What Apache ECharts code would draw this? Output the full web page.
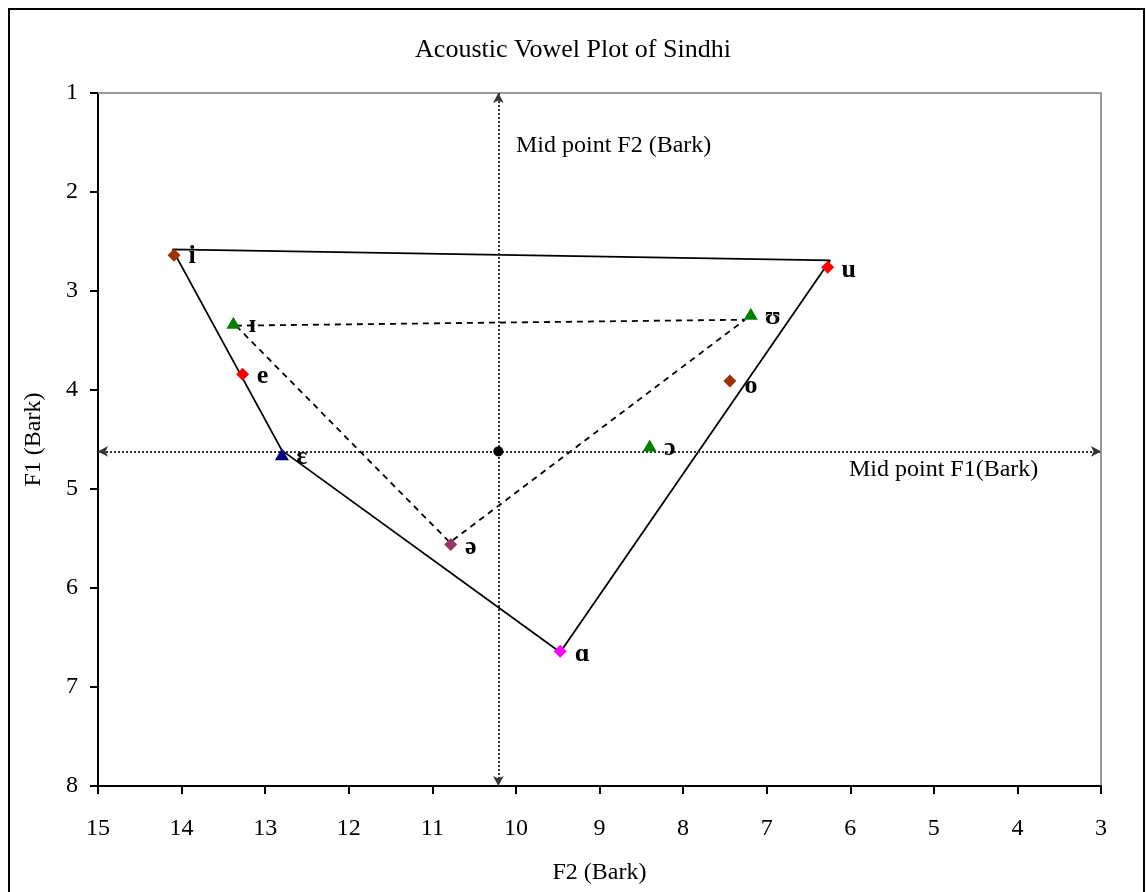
<!DOCTYPE html>
<html>
<head>
<meta charset="utf-8">
<script src="https://cdn.jsdelivr.net/npm/echarts@6/dist/echarts.min.js"></script>
<style>
  html, body { margin: 0; padding: 0; background: #fff; }
  #chart { width: 1146px; height: 892px; }
</style>
</head>
<body>
<div id="chart"></div>
<script>
// Vowel measurements (Bark)
const vowels = ['i', 'u', 'ʊ', 'o', 'ɪ', 'e', 'ɛ', 'ə', 'ɔ', 'ɑ'];
const f2Values = [14.09, 6.27, 7.19, 7.44, 13.38, 13.27, 12.80, 10.78, 8.40, 9.47];
const f1Values = [2.64, 2.76, 3.23, 3.91, 3.32, 3.84, 4.65, 5.56, 4.56, 6.64];

// Outer (long vowel) polygon: i - u - ɑ - ɛ - i
const outerF2 = [14.11, 6.24, 9.47, 12.80, 14.11];
const outerF1 = [2.58, 2.69, 6.65, 4.61, 2.58];

// Inner (short vowel) polygon: ɪ - ʊ - ə - ɪ
const innerF2 = [13.35, 7.26, 10.79, 13.35];
const innerF1 = [3.35, 3.29, 5.54, 3.35];

// Mid points of the vowel space
const midF2 = 10.21;
const midF1 = 4.62;

// Axis ranges and ticks
const f2Range = [3, 15];
const f1Range = [1, 8];

const serif = '"Liberation Serif", "Times New Roman", serif';

// Marker style per vowel
const markerStyle = {
  'i': { symbol: 'diamond', color: '#993300' },
  'u': { symbol: 'diamond', color: '#FF0000' },
  'ʊ': { symbol: 'triangle', color: '#008000' },
  'o': { symbol: 'diamond', color: '#993300' },
  'ɪ': { symbol: 'triangle', color: '#008000' },
  'e': { symbol: 'diamond', color: '#FF0000' },
  'ɛ': { symbol: 'triangle', color: '#000080' },
  'ə': { symbol: 'diamond', color: '#993366' },
  'ɔ': { symbol: 'triangle', color: '#008000' },
  'ɑ': { symbol: 'diamond', color: '#FF00FF' }
};
// Label placement next to each marker
const labelOffset = {
  'i': [18, 1], 'u': [21, 3], 'ʊ': [22, 4], 'o': [21, 5], 'ɪ': [19, 3],
  'e': [20, 2], 'ɛ': [20, 3], 'ə': [20, 3], 'ɔ': [20, 3], 'ɑ': [22, 3]
};

const pair = (xs, ys) => xs.map((x, k) => [x, ys[k]]);

const vowelPoints = vowels.map((v, k) => {
  const st = markerStyle[v];
  return {
    name: v,
    value: [f2Values[k], f1Values[k]],
    symbol: st.symbol,
    symbolSize: st.symbol === 'triangle' ? [14, 12] : [13, 13],
    itemStyle: { color: st.color, opacity: 1 },
    label: {
      show: true,
      position: 'inside',
      offset: labelOffset[v],
      formatter: v,
      color: '#000',
      fontFamily: serif,
      fontWeight: 'bold',
      fontSize: 26
    }
  };
});

const chart = echarts.init(document.getElementById('chart'), null, { renderer: 'canvas' });

const axisText = { color: '#000', fontFamily: serif, fontSize: 24 };

chart.setOption({
  animation: false,
  backgroundColor: '#fff',
  title: {
    text: 'Acoustic Vowel Plot of Sindhi',
    left: 'center',
    top: 32,
    textStyle: { color: '#000', fontFamily: serif, fontSize: 26, fontWeight: 'normal' }
  },
  grid: { left: 98, right: 45, top: 93, bottom: 106, containLabel: false },
  xAxis: [{
    type: 'value',
    min: f2Range[0], max: f2Range[1], interval: 1,
    inverse: true,
    position: 'bottom',
    name: 'F2 (Bark)',
    nameLocation: 'middle',
    nameGap: 75,
    nameTextStyle: axisText,
    axisLine: { show: true, onZero: false, lineStyle: { color: '#000', width: 2 } },
    axisTick: { show: true, length: 8, lineStyle: { color: '#000', width: 2 } },
    axisLabel: Object.assign({ margin: 31 }, axisText),
    splitLine: { show: false }
  }, {
    type: 'value',
    min: f2Range[0], max: f2Range[1],
    inverse: true,
    position: 'top',
    axisLine: { show: true, onZero: false, lineStyle: { color: '#999', width: 2 } },
    axisTick: { show: false },
    axisLabel: { show: false },
    splitLine: { show: false }
  }],
  yAxis: [{
    type: 'value',
    min: f1Range[0], max: f1Range[1], interval: 1,
    inverse: true,
    position: 'left',
    name: 'F1 (Bark)',
    nameLocation: 'middle',
    nameGap: 52,
    nameTextStyle: axisText,
    axisLine: { show: true, onZero: false, lineStyle: { color: '#000', width: 2 } },
    axisTick: { show: true, length: 8, lineStyle: { color: '#000', width: 2 } },
    axisLabel: Object.assign({ margin: 20 }, axisText),
    splitLine: { show: false }
  }, {
    type: 'value',
    min: f1Range[0], max: f1Range[1],
    inverse: true,
    position: 'right',
    axisLine: { show: true, onZero: false, lineStyle: { color: '#999', width: 2 } },
    axisTick: { show: false },
    axisLabel: { show: false },
    splitLine: { show: false }
  }],
  graphic: [
    {
      type: 'rect',
      shape: { x: 9, y: 9, width: 1135, height: 900 },
      style: { fill: 'none', stroke: '#000', lineWidth: 2 },
      z: 100
    },
    {
      type: 'text',
      left: 516, top: 134,
      style: { text: 'Mid point F2 (Bark)', fill: '#000', font: '24px ' + serif }
    },
    {
      type: 'text',
      left: 849, top: 458,
      style: { text: 'Mid point F1(Bark)', fill: '#000', font: '24px ' + serif }
    }
  ],
  series: [
    {
      name: 'outer',
      type: 'line',
      data: pair(outerF2, outerF1),
      symbol: 'none',
      lineStyle: { color: '#000', width: 1.8, type: 'solid' },
      z: 3
    },
    {
      name: 'inner',
      type: 'line',
      data: pair(innerF2, innerF1),
      symbol: 'none',
      lineStyle: { color: '#000', width: 1.8, type: [6, 5] },
      z: 3
    },
    {
      name: 'midpoint',
      type: 'scatter',
      data: [[midF2, midF1]],
      symbol: 'circle',
      symbolSize: 10,
      itemStyle: { color: '#000', opacity: 1 },
      z: 5,
      markLine: {
        silent: true,
        symbol: ['arrow', 'arrow'],
        symbolSize: [8, 10],
        label: { show: false },
        lineStyle: { color: '#333', width: 2, type: [2, 2] },
        data: [
          [{ coord: [midF2, f1Range[0]] }, { coord: [midF2, f1Range[1]] }],
          [{ coord: [f2Range[1], midF1] }, { coord: [f2Range[0], midF1] }]
        ]
      }
    },
    {
      name: 'vowels',
      type: 'scatter',
      data: vowelPoints,
      z: 6
    }
  ]
});
</script>
</body>
</html>
